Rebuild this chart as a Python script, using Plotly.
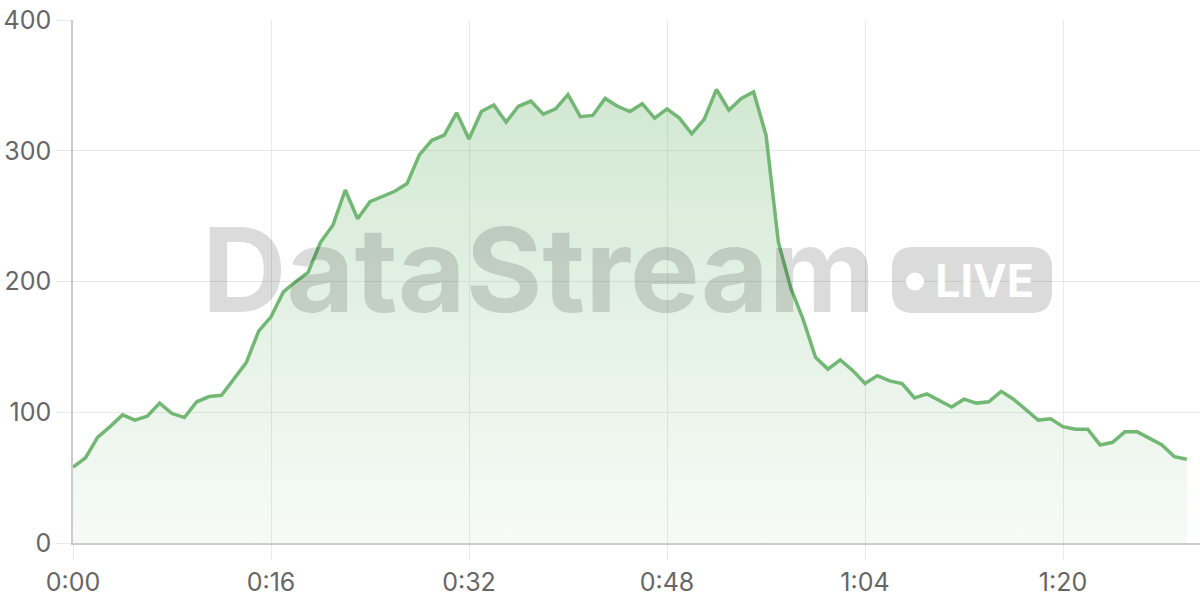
import plotly.graph_objects as go

# ---- data ----
values = [58, 65, 81, 89, 98, 94, 97, 107, 99, 96, 108, 112, 113, 126, 138, 162, 173,
          192, 200, 207, 230, 243, 270, 248, 261, 265, 269, 275, 297, 308, 312, 329, 309,
          330, 335, 322, 334, 338, 328, 332, 343, 326, 327, 340, 334, 330, 336, 325, 332, 325,
          313, 324, 347, 331, 340, 345, 312,
          230, 195, 171, 142, 133, 140, 132, 122, 128, 124, 122, 111, 114,
          109, 104, 110, 107, 108, 116, 110, 102, 94, 95, 89, 87, 87, 75, 77, 85, 85, 80, 75, 66, 64]
times = list(range(len(values)))
x_tick_vals = [0, 16, 32, 48, 64, 80]
x_tick_text = ["0:00", "0:16", "0:32", "0:48", "1:04", "1:20"]
y_tick_vals = [0, 100, 200, 300, 400]

W, H = 1200, 600
ML, MR, MT, MB = 73, 0, 20, 57
PW, PH = W - ML - MR, H - MT - MB

# helpers: window pixel -> paper coordinates (for the watermark decoration)
def px(xp):
    return (xp - ML) / PW

def py(yp):
    return (H - MB - yp) / PH

fig = go.Figure()
fig.add_trace(go.Scatter(
    x=times, y=values, mode="lines",
    line=dict(color="#72b874", width=3.5),
    fill="tozeroy",
    fillgradient=dict(type="vertical",
                      colorscale=[[0, "rgba(114,184,116,0.06)"], [1, "rgba(114,184,116,0.32)"]]),
    hoverinfo="skip", showlegend=False,
))

# rounded badge path (paper coords)
bx0, bx1, by0, by1, r = 892, 1052, 247, 313, 21
def P(xp, yp):
    return f"{px(xp):.5f},{py(yp):.5f}"
badge = (f"M {P(bx0 + r, by0)} L {P(bx1 - r, by0)} Q {P(bx1, by0)} {P(bx1, by0 + r)} "
         f"L {P(bx1, by1 - r)} Q {P(bx1, by1)} {P(bx1 - r, by1)} "
         f"L {P(bx0 + r, by1)} Q {P(bx0, by1)} {P(bx0, by1 - r)} "
         f"L {P(bx0, by0 + r)} Q {P(bx0, by0)} {P(bx0 + r, by0)} Z")

wm = "rgba(0,0,0,0.14)"
fig.add_shape(type="path", path=badge, xref="paper", yref="paper",
              fillcolor=wm, line=dict(width=0), layer="above")
fig.add_shape(type="circle", xref="paper", yref="paper",
              x0=px(906), x1=px(924), y0=py(290.5), y1=py(272.5),
              fillcolor="white", line=dict(width=0), layer="above")

fig.add_annotation(text="DataStream", xref="paper", yref="paper",
                   x=px(539), y=py(269), xanchor="center", yanchor="middle",
                   showarrow=False,
                   font=dict(family="Inter", size=117, color=wm, weight=700))
fig.add_annotation(text="LIVE", xref="paper", yref="paper",
                   x=px(984), y=py(280), xanchor="center", yanchor="middle",
                   showarrow=False,
                   font=dict(family="Inter", size=45, color="white", weight=700))

fig.update_layout(
    width=W, height=H,
    margin=dict(l=ML, r=MR, t=MT, b=MB, autoexpand=False),
    paper_bgcolor="white", plot_bgcolor="white",
    font=dict(family="Inter", size=25, color="#666666"),
    xaxis=dict(range=[0, 91.07], tickvals=x_tick_vals, ticktext=x_tick_text,
               showgrid=True, gridcolor="#e8e8e8", gridwidth=1,
               ticks="outside", ticklen=15, tickcolor="#e8e8e8",
               showline=True, linecolor="#cccccc", linewidth=1.5,
               ticklabelstandoff=1, automargin=False, ticklabeloverflow="allow",
               zeroline=False, fixedrange=True),
    yaxis=dict(range=[0, 400], tickvals=y_tick_vals,
               showgrid=True, gridcolor="#e8e8e8", gridwidth=1,
               ticks="outside", ticklen=15, tickcolor="#e8e8e8",
               showline=True, linecolor="#cccccc", linewidth=1.5,
               automargin=False, ticklabeloverflow="allow",
               zeroline=False, fixedrange=True),
)

fig.write_html("out.html", config={"displayModeBar": False},
               post_script="document.body.style.margin='0';document.body.style.overflow='hidden';")
